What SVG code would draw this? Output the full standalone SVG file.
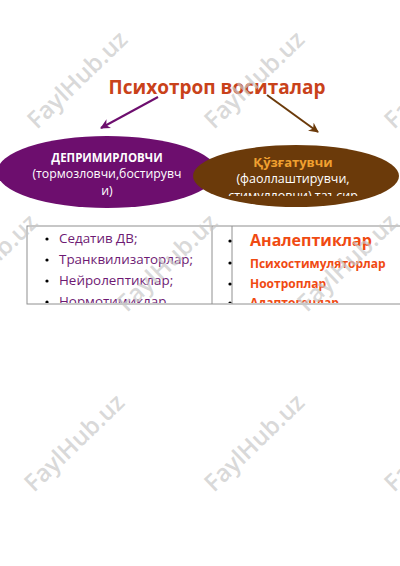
<svg xmlns="http://www.w3.org/2000/svg" width="400" height="566" viewBox="0 0 400 566">
<style>
.wm{font-family:"Open Sans","DejaVu Sans",sans-serif;font-size:24px;font-weight:600;fill:#c8c8c8;fill-opacity:0.7}
.t{font-family:"Open Sans","DejaVu Sans",sans-serif}
.w{fill:#ffffff}
.lp{fill:#6e1a73;font-size:13.4px}
.ro{fill:#f04a12;font-weight:700}
.bul{fill:#000}
</style>
<defs>
<marker id="ap" viewBox="0 0 10 10" refX="9" refY="5" markerWidth="5" markerHeight="5" orient="auto"><path d="M0,0 L10,5 L0,10 L3,5 z" fill="#6d0e6e"/></marker>
<marker id="ab" viewBox="0 0 10 10" refX="9" refY="5" markerWidth="5" markerHeight="5" orient="auto"><path d="M0,0 L10,5 L0,10 L3,5 z" fill="#6b3a0a"/></marker>
<clipPath id="cb"><rect x="190" y="140" width="210" height="56"/></clipPath>
<clipPath id="cl"><rect x="27" y="226" width="185" height="77"/></clipPath>
<clipPath id="cr"><rect x="212" y="226" width="188" height="77"/></clipPath>
</defs>
<rect width="400" height="566" fill="#ffffff"/>
<text class="t" x="217" y="94" text-anchor="middle" font-size="19" font-weight="700" fill="#c9421a">Психотроп воситалар</text>
<g id="connectors">
<line x1="158" y1="97" x2="101" y2="128" stroke="#6d0e6e" stroke-width="2" marker-end="url(#ap)"/>
<line x1="267" y1="95" x2="318" y2="132" stroke="#6b3a0a" stroke-width="2" marker-end="url(#ab)"/>
</g>
<g id="node-depressant">
<ellipse cx="107" cy="172" rx="110" ry="36" fill="#6d0e6e"/>
<text class="t w" x="107" y="162" text-anchor="middle" font-size="11.5" font-weight="700">ДЕПРИМИРЛОВЧИ</text>
<text class="t w" x="107" y="178" text-anchor="middle" font-size="12.3">(тормозловчи,бостирувч</text>
<text class="t w" x="107" y="195" text-anchor="middle" font-size="12.3">и)</text>
</g>
<g id="node-stimulant">
<ellipse cx="296" cy="176" rx="103" ry="31" fill="#6b3a0a"/>
<text class="t" x="293" y="167" text-anchor="middle" font-size="13" font-weight="700" fill="#f0a030">Қўзғатувчи</text>
<g clip-path="url(#cb)">
<text class="t w" x="293" y="183" text-anchor="middle" font-size="12.5">(фаоллаштирувчи,</text>
<text class="t w" x="293" y="200" text-anchor="middle" font-size="12.5">стимулловчи) таъсир</text>
</g>
</g>
<g id="table">
<rect x="27" y="226" width="380" height="78" fill="none" stroke="#909090" stroke-width="1"/>
<line x1="212" y1="226" x2="212" y2="304" stroke="#909090"/>
<line x1="232" y1="226" x2="232" y2="304" stroke="#909090"/>
<g clip-path="url(#cl)" class="t">
<circle class="bul" cx="47" cy="239" r="1.6"/>
<circle class="bul" cx="47" cy="260" r="1.6"/>
<circle class="bul" cx="47" cy="281" r="1.6"/>
<circle class="bul" cx="47" cy="302" r="1.6"/>
<text class="lp" x="59" y="243">Седатив ДВ;</text>
<text class="lp" x="59" y="264">Транквилизаторлар;</text>
<text class="lp" x="59" y="285">Нейролептиклар;</text>
<text class="lp" x="59" y="306">Нормотимиклар</text>
</g>
<g clip-path="url(#cr)" class="t">
<circle class="bul" cx="230" cy="241" r="1.6"/>
<circle class="bul" cx="230" cy="263" r="1.6"/>
<circle class="bul" cx="230" cy="284" r="1.6"/>
<circle class="bul" cx="230" cy="303" r="1.6"/>
<text class="ro" x="250" y="246" font-size="16">Аналептиклар</text>
<text class="ro" x="250" y="268" font-size="12">Психостимуляторлар</text>
<text class="ro" x="250" y="288" font-size="12">Ноотроплар</text>
<text class="ro" x="250" y="307" font-size="12">Адаптогенлар</text>
</g>
</g>
<g id="watermarks">
<text class="wm" transform="translate(37,130) rotate(-44)">FaylHub.uz</text>
<text class="wm" transform="translate(214,130) rotate(-44)">FaylHub.uz</text>
<text class="wm" transform="translate(394,130) rotate(-44)">FaylHub.uz</text>
<text class="wm" transform="translate(-53,313) rotate(-44)">FaylHub.uz</text>
<text class="wm" transform="translate(127,313) rotate(-44)">FaylHub.uz</text>
<text class="wm" transform="translate(307,313) rotate(-44)">FaylHub.uz</text>
<text class="wm" transform="translate(34,493) rotate(-44)">FaylHub.uz</text>
<text class="wm" transform="translate(214,493) rotate(-44)">FaylHub.uz</text>
<text class="wm" transform="translate(394,493) rotate(-44)">FaylHub.uz</text>
</g>
</svg>
